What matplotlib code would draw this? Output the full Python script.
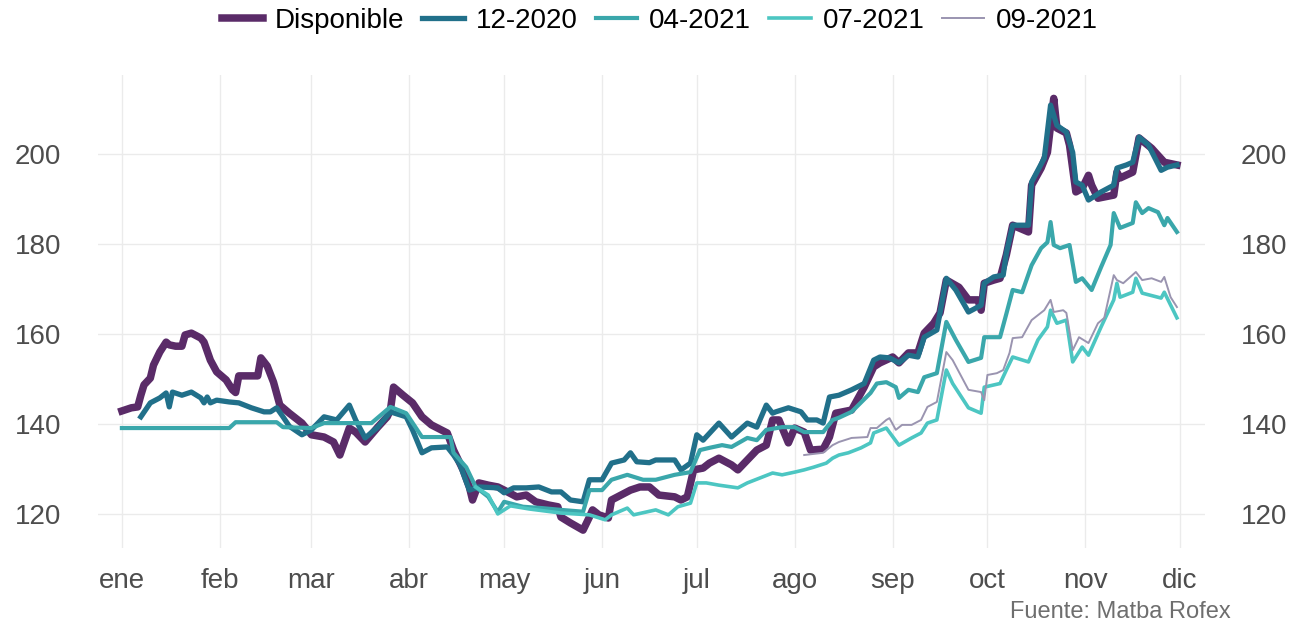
import matplotlib
matplotlib.use("Agg")
import matplotlib.pyplot as plt
import pandas as pd

plt.rcParams["font.family"] = ["Liberation Sans", "DejaVu Sans"]

# dias desde el 1 de enero de 2020 y precios (USD/tn)
disp_dia = [0, 3, 5, 6, 7, 9, 10, 12, 14, 15, 17, 19, 20, 22, 25, 26, 28, 30, 33, 35,
            36, 37, 41, 43, 44, 46, 48, 50, 53, 57, 60, 64, 67, 69, 72, 74, 77, 81, 84, 85,
            86, 89, 92, 95, 98, 103, 105, 108, 110, 111, 113, 116, 119, 121, 125, 128, 131, 135, 138, 139,
            142, 146, 148, 149, 151, 154, 155, 158, 161, 164, 167, 170, 175, 177, 179, 181, 184, 186, 189, 193,
            195, 198, 201, 204, 206, 208, 211, 213, 216, 218, 222, 224, 226, 231, 235, 238, 240, 244, 246, 249,
            252, 254, 257, 259, 261, 265, 268, 271, 272, 273, 276, 278, 280, 282, 287, 288, 291, 293, 295, 296,
            299, 300, 302, 304, 306, 307, 309, 314, 315, 316, 320, 322, 326, 330, 334]
disp_val = [142.9, 143.6, 143.8, 146.4, 148.7, 150.2, 153.1, 156.0, 158.2, 157.6, 157.3, 157.3, 159.8, 160.2, 159.1, 158.2, 154.2, 151.6, 149.8, 147.6,
            147.0, 150.7, 150.7, 150.7, 154.7, 152.9, 149.3, 144.2, 142.4, 140.2, 137.6, 137.1, 136.0, 133.1, 139.1, 138.2, 136.0, 139.3, 141.6, 143.1,
            148.2, 146.4, 144.7, 141.6, 139.8, 138.0, 134.2, 129.8, 126.0, 123.1, 126.9, 126.4, 126.0, 125.3, 123.8, 124.2, 122.7, 122.0, 121.6, 119.3,
            118.0, 116.4, 119.3, 120.9, 119.8, 119.1, 123.1, 124.2, 125.3, 126.0, 126.0, 124.2, 123.8, 123.1, 123.8, 129.8, 130.2, 131.3, 132.4, 130.9,
            129.8, 132.0, 134.2, 135.3, 140.9, 140.9, 135.8, 139.1, 138.2, 134.2, 134.4, 137.1, 142.4, 143.1, 148.2, 152.7, 153.6, 154.9, 153.6, 155.8,
            155.8, 160.2, 162.4, 164.7, 172.0, 170.4, 167.6, 167.6, 165.3, 171.3, 172.0, 172.4, 177.6, 184.2, 182.7, 193.1, 196.9, 200.4, 212.4, 205.8,
            204.7, 202.0, 191.6, 192.4, 195.3, 193.1, 190.2, 190.9, 196.0, 194.7, 196.0, 203.6, 201.3, 198.2, 197.6]

dic20_dia = [6, 9, 12, 14, 15, 16, 19, 22, 25, 26, 27, 28, 30, 34, 37, 41, 45, 47, 49, 51,
             53, 57, 60, 64, 68, 72, 74, 77, 81, 85, 90, 92, 95, 98, 103, 105, 107, 110, 113, 119,
             121, 124, 128, 132, 136, 139, 142, 146, 148, 152, 155, 159, 161, 163, 167, 169, 175, 177, 180, 182,
             184, 189, 193, 198, 201, 204, 206, 207, 211, 215, 217, 220, 222, 224, 227, 231, 235, 238, 240, 243,
             246, 249, 252, 254, 258, 261, 264, 268, 272, 273, 276, 279, 280, 282, 287, 288, 292, 294, 296, 299,
             301, 302, 304, 306, 310, 314, 315, 318, 320, 322, 325, 329, 331, 334]
dic20_val = [141.6, 144.7, 145.8, 146.9, 143.8, 147.1, 146.4, 147.1, 145.8, 144.7, 146.0, 144.7, 145.3, 144.9, 144.7, 143.6, 142.7, 142.7, 143.6, 141.6,
             139.5, 137.6, 138.7, 141.6, 140.9, 144.2, 140.9, 136.9, 139.3, 142.7, 141.6, 138.7, 133.6, 134.7, 134.9, 133.1, 131.0, 125.3, 126.0, 125.8,
             124.7, 125.8, 125.8, 126.0, 124.9, 124.9, 123.1, 122.7, 127.6, 127.6, 131.3, 132.0, 133.6, 131.6, 131.4, 132.0, 132.0, 129.8, 131.3, 137.6,
             136.4, 140.2, 137.1, 140.2, 139.3, 144.2, 142.4, 142.7, 143.6, 142.7, 140.9, 140.9, 140.2, 146.0, 146.4, 147.6, 149.0, 154.2, 154.9, 154.7,
             153.6, 155.3, 154.9, 159.3, 160.9, 172.4, 169.8, 164.9, 166.4, 171.3, 172.7, 173.1, 178.0, 184.2, 184.2, 193.8, 199.1, 210.9, 206.4, 204.9,
             200.4, 193.8, 193.1, 189.8, 191.6, 193.1, 196.9, 197.6, 198.2, 203.8, 202.0, 196.4, 197.1, 197.6]

abr21_dia = [0, 34, 36, 49, 51, 60, 64, 79, 85, 90, 95, 104, 105, 109, 112, 116, 119, 121, 127, 133,
             139, 146, 148, 152, 155, 160, 165, 169, 175, 180, 183, 186, 190, 193, 198, 201, 204, 209, 213, 216,
             222, 225, 227, 231, 237, 239, 242, 245, 246, 249, 252, 254, 258, 261, 264, 268, 272, 273, 278, 280,
             282, 285, 288, 291, 293, 294, 295, 297, 300, 302, 304, 307, 310, 313, 314, 316, 320, 321, 323, 325,
             328, 330, 331, 334]
abr21_val = [139.1, 139.1, 140.4, 140.4, 139.3, 139.1, 140.2, 140.2, 143.8, 142.4, 137.1, 137.1, 133.6, 130.4, 126.0, 123.8, 120.4, 122.7, 121.6, 121.3,
             120.9, 120.5, 125.3, 125.3, 127.6, 128.7, 127.6, 127.6, 128.7, 129.3, 134.2, 134.7, 135.3, 134.9, 136.9, 136.4, 138.7, 139.3, 139.3, 138.2,
             138.2, 140.9, 141.4, 142.7, 146.9, 149.0, 149.3, 148.2, 145.8, 147.6, 147.1, 150.4, 151.3, 162.7, 158.7, 153.8, 154.7, 159.3, 159.3, 164.5,
             169.8, 169.3, 175.3, 179.1, 180.4, 184.9, 179.8, 179.1, 179.8, 171.6, 172.4, 169.8, 174.9, 179.8, 186.9, 183.6, 184.7, 189.3, 186.9, 188.0,
             187.1, 184.2, 185.8, 182.7]

jul21_dia = [112, 116, 119, 123, 129, 139, 148, 153, 155, 160, 162, 169, 173, 176, 180, 182, 185, 189, 195, 198,
             202, 206, 209, 213, 216, 219, 223, 225, 227, 230, 234, 237, 238, 242, 246, 250, 253, 255, 258, 261,
             263, 268, 272, 273, 278, 280, 282, 287, 290, 293, 294, 296, 299, 301, 304, 306, 310, 314, 315, 316,
             320, 321, 323, 329, 330, 334]
jul21_val = [126.0, 124.2, 120.0, 121.8, 121.1, 120.2, 119.8, 118.7, 119.8, 121.3, 119.8, 120.9, 119.8, 121.6, 122.4, 126.9, 126.9, 126.4, 125.8, 126.9,
             128.0, 129.1, 128.7, 129.3, 129.8, 130.4, 131.3, 132.4, 133.1, 133.6, 134.7, 135.8, 138.0, 139.1, 135.3, 136.9, 138.0, 140.2, 140.9, 152.0,
             149.0, 143.6, 142.4, 148.2, 149.0, 152.0, 154.9, 153.8, 158.7, 161.6, 165.3, 162.4, 163.1, 153.8, 157.1, 155.3, 161.6, 167.6, 171.3, 168.2,
             169.3, 172.4, 169.1, 168.0, 169.3, 163.6]

sep21_dia = [216, 222, 225, 227, 231, 236, 237, 239, 242, 243, 245, 247, 250, 253, 255, 258, 261, 263, 268, 272,
             273, 274, 277, 279, 281, 282, 285, 288, 292, 294, 295, 298, 299, 301, 303, 306, 309, 311, 314, 315,
             317, 321, 323, 326, 329, 330, 332, 334]
sep21_val = [133.1, 133.6, 135.3, 136.0, 136.9, 137.1, 139.1, 139.1, 140.9, 141.3, 138.7, 139.8, 139.8, 140.9, 143.8, 144.9, 156.0, 154.2, 147.6, 147.1,
             145.3, 150.9, 151.3, 152.0, 155.8, 159.1, 159.3, 163.1, 165.3, 167.6, 164.9, 165.3, 164.7, 156.4, 159.3, 158.0, 162.4, 163.6, 173.1, 172.0,
             171.3, 173.8, 172.0, 172.4, 171.6, 172.7, 168.2, 166.0]

meses = ["ene", "feb", "mar", "abr", "may", "jun", "jul", "ago", "sep", "oct", "nov", "dic"]

inicio = pd.Timestamp("2020-01-01")


def fechas(dias):
    return inicio + pd.to_timedelta(dias, unit="D")


series = [
    ("Disponible", disp_dia, disp_val, "#5a2b68", 5.4),
    ("12-2020", dic20_dia, dic20_val, "#21708a", 3.8),
    ("04-2021", abr21_dia, abr21_val, "#3aa7ab", 3.0),
    ("07-2021", jul21_dia, jul21_val, "#4cc6c2", 2.6),
    ("09-2021", sep21_dia, sep21_val, "#9a94b0", 1.4),
]

fig = plt.figure(figsize=(13.01, 6.25), dpi=100)
ax = fig.add_axes([0.075, 0.123, 0.851, 0.757])

for nombre, d, v, color, lw in series:
    ax.plot(fechas(d), v, color=color, lw=lw, label=nombre, solid_joinstyle="round")

ax.set_xlim(inicio - pd.Timedelta(days=7.7), inicio + pd.Timedelta(days=342.8))
ax.set_ylim(112.4, 217.6)
ax.set_yticks([120, 140, 160, 180, 200])
ax.set_xticks(pd.date_range("2020-01-01", "2020-12-01", freq="MS"))
ax.set_xticklabels(meses)
ax.grid(True, color="#ebebeb", lw=1)
ax.set_axisbelow(True)
for s in ax.spines.values():
    s.set_visible(False)
ax.tick_params(axis="y", length=0, pad=26, labelsize=20, labelcolor="#4d4d4d",
               labelright=True)
ax.tick_params(axis="x", length=0, pad=14, labelsize=20, labelcolor="#4d4d4d")

fig.legend(loc="upper center", bbox_to_anchor=(0.507, 1.028), ncol=5, frameon=False,
           fontsize=20, handlelength=1.5, handletextpad=0.42, columnspacing=0.65)

fig.text(0.946, 0.004, "Fuente: Matba Rofex", ha="right", va="bottom",
         fontsize=17, color="#6e6e6e")

fig.savefig("out.png", dpi=100)
